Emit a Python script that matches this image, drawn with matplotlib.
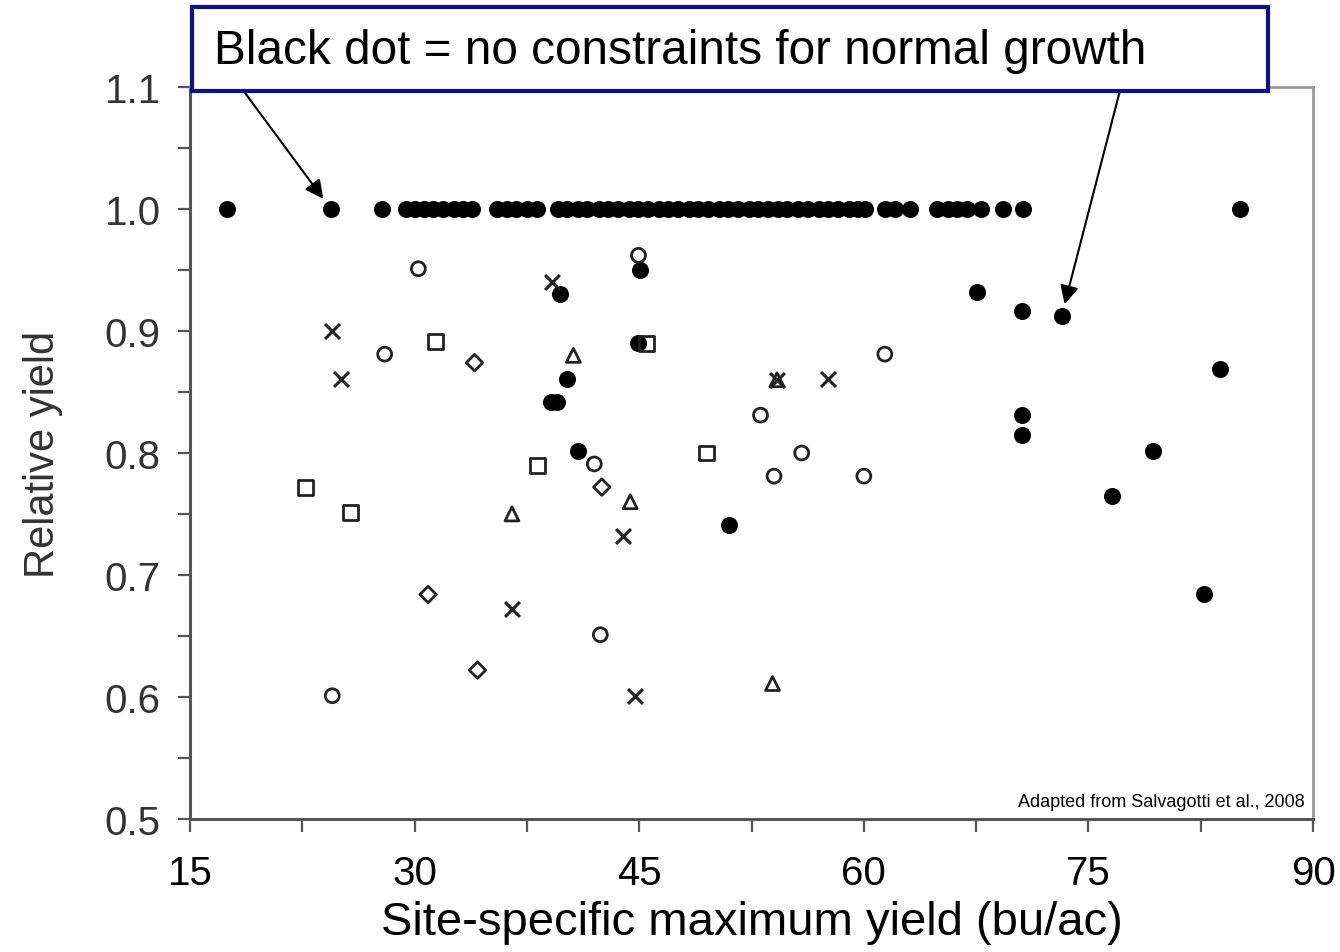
import numpy as np
import matplotlib
matplotlib.use('Agg')
import matplotlib.pyplot as plt
from matplotlib.ticker import MultipleLocator
from matplotlib.patches import Rectangle

plt.rcParams['font.family'] = ['Liberation Sans', 'DejaVu Sans']

# Black dots: no constraints (relative yield = 1.0 row plus the scattered ones)
dot_top_x = [17.5, 24.4, 27.8, 29.4, 30.0, 30.6, 31.2, 31.9, 32.6, 33.2, 33.8,
             35.5, 36.2, 36.8, 37.5, 38.2, 39.6, 40.2, 40.9, 41.5, 42.3, 42.9,
             43.6, 44.3, 44.9, 45.6, 46.3, 46.9, 47.6, 48.3, 48.9, 49.6, 50.3,
             50.9, 51.6, 52.3, 52.9, 53.6, 54.3, 54.9, 55.6, 56.3, 57.0, 57.6,
             58.3, 59.0, 59.6, 60.1, 61.4, 62.1, 63.1, 64.9, 65.6, 66.2, 66.9,
             67.8, 69.3, 70.6, 85.1]
dot_x = [39.7, 45.05, 44.9, 40.2, 39.1, 39.5, 40.9, 51.0, 67.55, 70.55, 73.2,
         83.8, 70.55, 70.55, 79.3, 76.6, 82.7]
dot_y = [0.93, 0.95, 0.89, 0.861, 0.842, 0.842, 0.802, 0.741, 0.932, 0.916, 0.912,
         0.869, 0.831, 0.815, 0.802, 0.765, 0.684]

circle_x = [30.25, 28.0, 44.95, 61.4, 53.1, 55.85, 54.0, 60.0, 42.0, 42.4, 24.5]
circle_y = [0.951, 0.881, 0.962, 0.881, 0.831, 0.80, 0.781, 0.781, 0.791, 0.651, 0.601]

square_x = [31.4, 38.2, 22.7, 25.7, 49.5, 45.5]
square_y = [0.891, 0.79, 0.772, 0.751, 0.80, 0.89]

diamond_x = [34.0, 42.5, 30.9, 34.2]
diamond_y = [0.874, 0.772, 0.684, 0.622]

triangle_x = [40.6, 36.5, 44.4, 54.2, 53.9]
triangle_y = [0.88, 0.75, 0.76, 0.86, 0.611]

cross_x = [39.2, 24.5, 25.1, 54.2, 57.6, 43.9, 36.5, 44.75]
cross_y = [0.94, 0.90, 0.861, 0.86, 0.861, 0.732, 0.672, 0.601]

fig = plt.figure(figsize=(13.4, 9.53), dpi=100)
ax = fig.add_axes([0.1418, 0.1396, 0.8381, 0.7681])

ax.scatter(dot_top_x, [1.0] * len(dot_top_x), s=150, c='black', marker='o', lw=0, zorder=3)
ax.scatter(dot_x, dot_y, s=150, c='black', marker='o', lw=0, zorder=3)
ax.scatter(circle_x, circle_y, s=100, facecolors='none', edgecolors='#222222', marker='o', lw=2.0, zorder=3)
ax.scatter(square_x, square_y, s=115, facecolors='none', edgecolors='#222222', marker='s', lw=2.0, zorder=3)
ax.scatter(diamond_x, diamond_y, s=70, facecolors='none', edgecolors='#222222', marker='D', lw=2.0, zorder=3)
ax.scatter(triangle_x, triangle_y, s=100, facecolors='none', edgecolors='#222222', marker='^', lw=2.0, zorder=3)
ax.scatter(cross_x, cross_y, s=115, c='#222222', marker='x', lw=2.2, zorder=3)

ax.set_xlim(15, 90)
ax.set_ylim(0.5, 1.1)
ax.xaxis.set_major_locator(MultipleLocator(15))
ax.xaxis.set_minor_locator(MultipleLocator(7.5))
ax.yaxis.set_major_locator(MultipleLocator(0.1))
ax.yaxis.set_minor_locator(MultipleLocator(0.05))
ax.yaxis.set_major_formatter(plt.FuncFormatter(lambda v, p: '%.1f' % v))

ax.tick_params(axis='both', which='both', direction='out', length=9, width=1.6, color='#555555')
ax.tick_params(axis='x', labelsize=29, pad=16, labelcolor='black')
ax.tick_params(axis='y', labelsize=29, pad=12, labelcolor='#333333')

for side in ['left', 'bottom']:
    ax.spines[side].set_color('#555555')
    ax.spines[side].set_linewidth(2.2)
for side in ['top', 'right']:
    ax.spines[side].set_color('#999999')
    ax.spines[side].set_linewidth(2.0)

ax.set_xlabel('Site-specific maximum yield (bu/ac)', fontsize=34, labelpad=6)
ax.set_ylabel('Relative yield', fontsize=30, color='#333333', labelpad=30)

ax.text(0.993, 0.012, 'Adapted from Salvagotti et al., 2008', transform=ax.transAxes,
        ha='right', va='bottom', fontsize=13)

# title box with arrows pointing to the black dots
box = Rectangle((0.1433, 0.9035), 0.803, 0.0881, transform=fig.transFigure,
                facecolor='white', edgecolor='#10108a', lw=3, zorder=10)
fig.patches.append(box)
fig.text(0.160, 0.946, 'Black dot = no constraints for normal growth', fontsize=34.4,
         ha='left', va='center', zorder=11)

arrow = dict(arrowstyle='-|>', color='black', lw=1.5, mutation_scale=28, shrinkA=0, shrinkB=9)
ax.annotate('', xy=(dot_top_x[1], 1.0), xycoords='data',
            xytext=(0.181, 0.905), textcoords='figure fraction', arrowprops=arrow, zorder=5)
ax.annotate('', xy=(dot_x[10], dot_y[10]), xycoords='data',
            xytext=(0.836, 0.905), textcoords='figure fraction', arrowprops=arrow, zorder=5)

fig.savefig('out.png', dpi=100)
